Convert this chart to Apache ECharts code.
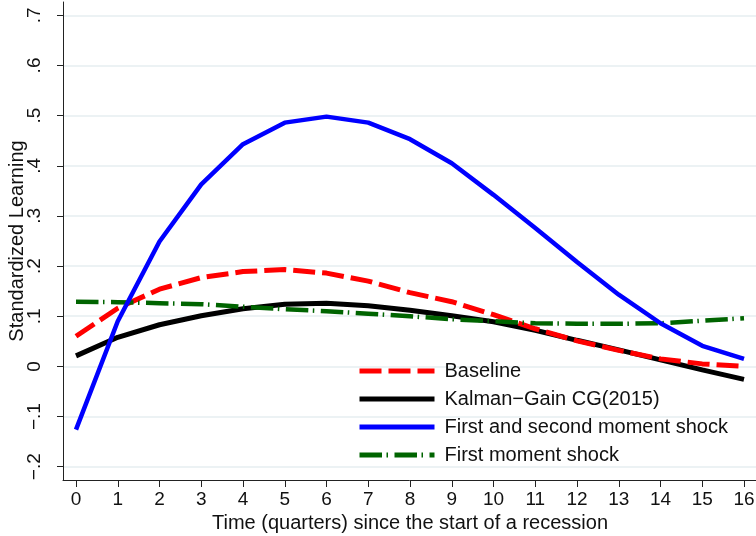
<!DOCTYPE html>
<html>
<head>
<meta charset="utf-8">
<script src="https://cdn.jsdelivr.net/npm/echarts@6/dist/echarts.min.js"></script>
<style>
html,body{margin:0;padding:0;background:#fff;}
#chart{width:756px;height:536px;}
</style>
</head>
<body>
<div id="chart"></div>
<script>
// ---- data ----
var quarters = [0,1,2,3,4,5,6,7,8,9,10,11,12,13,14,15,16];
var baseline = [0.060,0.116,0.154,0.177,0.189,0.193,0.186,0.170,0.147,0.129,0.103,0.075,0.051,0.032,0.015,0.005,0.000];
var kalmanGain = [0.021,0.058,0.083,0.101,0.115,0.124,0.126,0.121,0.112,0.101,0.089,0.072,0.052,0.033,0.013,-0.007,-0.026];
var firstSecondShock = [-0.126,0.090,0.249,0.363,0.443,0.486,0.498,0.486,0.453,0.405,0.342,0.276,0.208,0.143,0.086,0.041,0.015];
var firstMomentShock = [0.129,0.128,0.126,0.124,0.119,0.114,0.110,0.105,0.100,0.094,0.090,0.086,0.085,0.085,0.086,0.091,0.096];
var seriesNames = ['Baseline','Kalman\u2212Gain CG(2015)','First and second moment shock','First moment shock'];
var yTickValues = [-0.2,-0.1,0,0.1,0.2,0.3,0.4,0.5,0.6,0.7];
var yTickLabels = ['\u2212.2','\u2212.1','0','.1','.2','.3','.4','.5','.6','.7'];
var xTickLabels = ['0','1','2','3','4','5','6','7','8','9','10','11','12','13','14','15','16'];
var xTitle = 'Time (quarters) since the start of a recession';
var yTitle = 'Standardized Learning';

function pairs(vals){ return quarters.map(function(q,i){ return [q, vals[i]]; }); }

var FONT = '"Liberation Sans", Arial, Helvetica, sans-serif';
var TXT = '#111';
var AX = '#222';

var chart = echarts.init(document.getElementById('chart'), null, {renderer:'canvas'});
var option = {
  animation: false,
  backgroundColor: '#fff',
  textStyle: {fontFamily: FONT},
  grid: [
    {left: 63, right: 0, top: 2, bottom: 56, containLabel: false, outerBoundsMode: 'none'},
    {left: 63, right: 0, top: 15.3, bottom: 69.3, containLabel: false, outerBoundsMode: 'none'},
    {left: 76, right: 12, top: 2, bottom: 56, containLabel: false, outerBoundsMode: 'none'}
  ],
  xAxis: [
    {gridIndex: 0, type: 'value', min: -0.3114, max: 16.2874,
     axisLine: {show: true, onZero: false, lineStyle: {color: AX, width: 1}},
     axisTick: {show: false}, axisLabel: {show: false}, splitLine: {show: false}},
    {gridIndex: 1, type: 'value', min: 0, max: 1, show: false},
    {gridIndex: 2, type: 'value', min: 0, max: 16, interval: 1,
     axisLine: {show: false, onZero: false},
     axisTick: {show: true, inside: false, length: 7, lineStyle: {color: AX, width: 1}},
     axisLabel: {show: true, margin: 10, fontSize: 19, color: TXT, fontFamily: FONT,
       formatter: function(v){ return xTickLabels[Math.round(v)]; }},
     splitLine: {show: false},
     name: xTitle, nameLocation: 'middle', nameGap: 31,
     nameTextStyle: {fontSize: 20, color: TXT, fontFamily: FONT}}
  ],
  yAxis: [
    {gridIndex: 0, type: 'value', min: -0.2265, max: 0.7265,
     axisLine: {show: true, onZero: false, lineStyle: {color: AX, width: 1}},
     axisTick: {show: false}, axisLabel: {show: false}, splitLine: {show: false}},
    {gridIndex: 1, type: 'value', position: 'left', min: -0.2, max: 0.7, interval: 0.1,
     axisLine: {show: false, onZero: false},
     axisTick: {show: true, inside: false, length: 6, lineStyle: {color: AX, width: 1}},
     axisLabel: {show: true, inside: false, rotate: 90, margin: 19, fontSize: 19, color: TXT, fontFamily: FONT,
       formatter: function(v){
         var i = Math.round((v - yTickValues[0]) / 0.1);
         return yTickLabels[i];
       }},
     splitLine: {show: true, lineStyle: {color: '#e6eef0', width: 1.5}},
     name: yTitle, nameLocation: 'middle', nameGap: 36, nameRotate: 90, nameMoveOverlap: false,
     nameTextStyle: {fontSize: 20, color: TXT, fontFamily: FONT}},
    {gridIndex: 2, type: 'value', min: 0, max: 1, show: false}
  ],
  legend: {
    orient: 'vertical', left: 357, top: 361, padding: 0,
    itemWidth: 75, itemHeight: 14, itemGap: 8,
    data: seriesNames,
    textStyle: {fontSize: 20, color: TXT, fontFamily: FONT, padding: [0,0,0,5]},
    lineStyle: {width: 5},
    itemStyle: {opacity: 0},
    selectedMode: false
  },
  series: [
    {name: seriesNames[1], type: 'line', xAxisIndex: 0, yAxisIndex: 0, data: pairs(kalmanGain),
     showSymbol: false, symbol: 'none', z: 2,
     lineStyle: {color: '#000000', width: 5, type: 'solid'}, itemStyle: {color: '#000000'}},
    {name: seriesNames[0], type: 'line', xAxisIndex: 0, yAxisIndex: 0, data: pairs(baseline),
     showSymbol: false, symbol: 'none', z: 3,
     lineStyle: {color: '#ff0000', width: 5, type: [22, 7]}, itemStyle: {color: '#ff0000'}},
    {name: seriesNames[3], type: 'line', xAxisIndex: 0, yAxisIndex: 0, data: pairs(firstMomentShock),
     showSymbol: false, symbol: 'none', z: 4,
     lineStyle: {color: '#006400', width: 4.5, type: [22.5, 4.5, 1.5, 6.5]}, itemStyle: {color: '#006400'}},
    {name: seriesNames[2], type: 'line', xAxisIndex: 0, yAxisIndex: 0, data: pairs(firstSecondShock),
     showSymbol: false, symbol: 'none', z: 5,
     lineStyle: {color: '#0000ff', width: 4.5, type: 'solid'}, itemStyle: {color: '#0000ff'}}
  ]
};
chart.setOption(option);
</script>
</body>
</html>
